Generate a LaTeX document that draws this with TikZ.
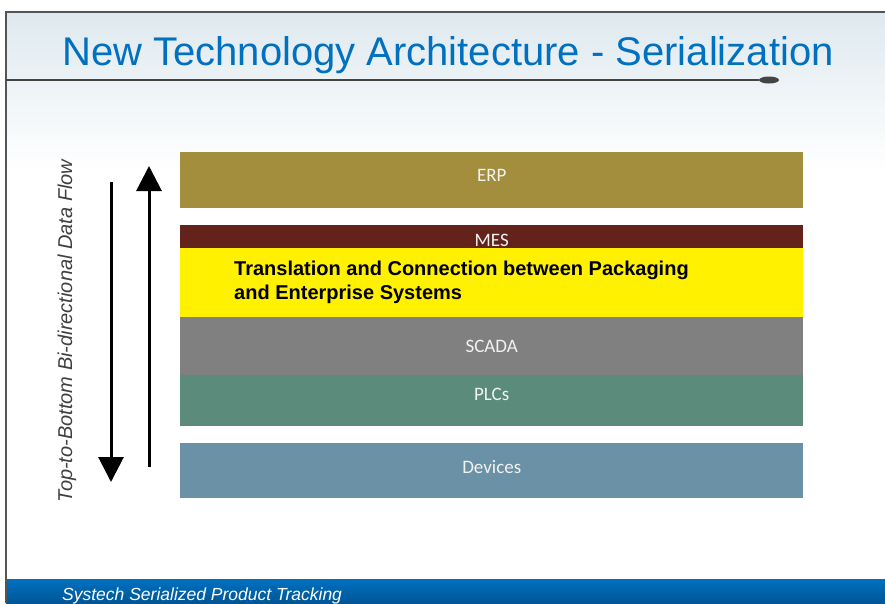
\documentclass[tikz,border=0pt]{standalone}
\usepackage{fontspec}
\setmainfont{Liberation Sans}
\newfontfamily\calibri{Carlito}
\usetikzlibrary{arrows.meta,calc,shapes.geometric}
\definecolor{titleblue}{HTML}{0070C0}
\definecolor{erpcol}{HTML}{A38E3E}
\definecolor{mescol}{HTML}{63231A}
\definecolor{transcol}{HTML}{FFF100}
\definecolor{scadacol}{HTML}{808080}
\definecolor{plccol}{HTML}{5B8C7B}
\definecolor{devcol}{HTML}{6B91A6}
\definecolor{framecol}{HTML}{555555}
\tikzset{
  layer/.style={draw=none, minimum width=623pt, inner sep=0pt, anchor=north west},
  lbl/.style={text=white!95!black, inner sep=0pt, font=\calibri\fontsize{19}{22}\selectfont},
  flow/.style={line width=3pt, -{Triangle[length=25pt,width=25pt]}}
}

\begin{document}
\begin{tikzpicture}[x=1pt,y=-1pt]
\useasboundingbox (0,0) rectangle (885,603);
\fill[white] (0,0) rectangle (885,603);
\shade[top color={rgb,255:red,222;green,233;blue,239}, bottom color=white] (6,12) rectangle (885,170);
\shade[top color={rgb,255:red,0;green,112;blue,192}, bottom color={rgb,255:red,0;green,86;blue,150}] (6,579) rectangle (885,603);
\draw[line width=1.2pt, framecol] (6,603) -- (6,12) -- (885,12);

% title
\node[anchor=base west, inner sep=0pt, text=titleblue, font=\fontsize{40}{46}\selectfont] (title) at (62,65) {New Technology Architecture - Serialization};
\coordinate (ulstart) at (6,80);
\node[ellipse, fill=framecol!80!black, minimum width=20pt, minimum height=7pt, inner sep=0pt] (uldot) at (769,80) {};
\draw[line width=1.2pt, framecol!80!black] (ulstart) -- (uldot);

% layers
\node[layer, fill=erpcol, minimum height=56pt] (erp) at (180,152) {};
\node[layer, fill=mescol, minimum height=23pt] (mes) at (180,225) {};
\node[layer, fill=transcol, minimum height=69pt] (trans) at (180,248) {};
\node[layer, fill=scadacol, minimum height=58pt] (scada) at (180,317) {};
\node[layer, fill=plccol, minimum height=51pt] (plc) at (180,375) {};
\node[layer, fill=devcol, minimum height=55pt] (dev) at (180,443) {};

\node[lbl] (erplbl) at ([yshift=5pt]erp.center) {ERP};
\node[lbl] (meslbl) at ([yshift=-3.5pt]mes.center) {MES};
\node[lbl] (scadalbl) at (scada.center) {SCADA};
\node[lbl] (plclbl) at ([yshift=6.5pt]plc.center) {PLCs};
\node[lbl] (devlbl) at ([yshift=4pt]dev.center) {Devices};
\node[anchor=west, align=left, inner sep=0pt, font=\bfseries\fontsize{20}{24}\selectfont] (translbl) at ($(trans.west)+(54,0)$) {Translation and Connection between Packaging\\and Enterprise Systems};

% data flow
\coordinate (downtop) at (111,182);
\coordinate (downbot) at (111,482);
\coordinate (upbot) at (149,467);
\coordinate (uptop) at (149,166);
\draw[flow] (downtop) -- (downbot);
\draw[flow] (upbot) -- (uptop);
\node[rotate=90, inner sep=0pt, text=black!75, font=\itshape\fontsize{20}{22}\selectfont] (flowlbl) at (67,331) {Top-to-Bottom Bi-directional Data Flow};

% footer
\node[anchor=base west, inner sep=0pt, text=white, font=\itshape\fontsize{17.5}{20}\selectfont] (footer) at (62,600.5) {Systech Serialized Product Tracking};
\end{tikzpicture}
\end{document}
